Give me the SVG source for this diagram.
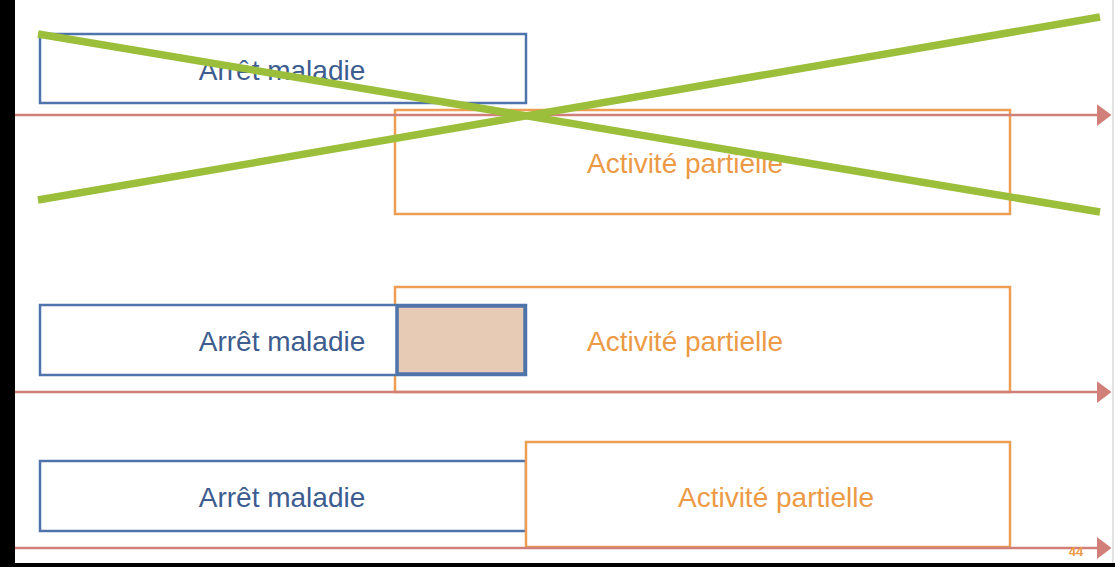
<svg xmlns="http://www.w3.org/2000/svg" width="1115" height="567" viewBox="0 0 1115 567">
<style>
.blue{fill:#ffffff;stroke:#4f74ab;stroke-width:2.5}
.orange{fill:#ffffff;stroke:#ee9e52;stroke-width:2.5}
.tb{font-family:"Liberation Sans",Arial,sans-serif;font-size:28px;fill:#3d5d8f;text-anchor:middle}
.to{font-family:"Liberation Sans",Arial,sans-serif;font-size:28px;fill:#ec9a45;text-anchor:middle}
.axis{stroke:#d08079;stroke-width:2.5;fill:none}
.cross{stroke:#9bbf3a;stroke-width:7.5;stroke-linecap:butt}
</style>
<defs>
<marker id="arr" viewBox="0 0 10 10" refX="1" refY="5" markerWidth="6" markerHeight="9" markerUnits="strokeWidth" orient="auto" preserveAspectRatio="none">
<path d="M0,0 L10,5 L0,10 z" fill="#d08079"/>
</marker>
</defs>
<rect x="0" y="0" width="1115" height="567" fill="#ffffff"/>
<rect x="0" y="0" width="15" height="567" fill="#000000"/>
<rect x="0" y="563" width="1115" height="4" fill="#000000"/>
<line x1="1113" y1="0" x2="1113" y2="563" stroke="#c8c8c8" stroke-width="1"/>

<g id="row1-orange"><rect class="orange" x="395" y="110" width="615" height="104"/><text class="to" x="685" y="173">Activité partielle</text></g>
<g id="row1-blue"><rect class="blue" x="40" y="34" width="486" height="69"/><text class="tb" x="282" y="80">Arrêt maladie</text></g>

<g id="row2-orange"><rect class="orange" x="395" y="287" width="615" height="105"/><text class="to" x="685" y="351">Activité partielle</text></g>
<g id="row2-blue"><rect class="blue" x="40" y="305" width="486" height="70"/><text class="tb" x="282" y="351">Arrêt maladie</text></g>
<g id="row2-overlap"><rect x="397" y="306" width="128" height="68" fill="#e8cbb4" stroke="#4f74ab" stroke-width="3.5"/></g>

<g id="row3-blue"><rect class="blue" x="40" y="461" width="486" height="70"/><text class="tb" x="282" y="507">Arrêt maladie</text></g>
<g id="row3-orange"><rect class="orange" x="526" y="442" width="484" height="105"/><text class="to" x="776" y="507">Activité partielle</text></g>

<g id="connectors">
<line class="axis" x1="15" y1="115" x2="1098" y2="115" marker-end="url(#arr)"/>
<line class="axis" x1="15" y1="392" x2="1098" y2="392" marker-end="url(#arr)"/>
<line class="axis" x1="15" y1="548" x2="1098" y2="548" marker-end="url(#arr)"/>
</g>

<text x="1076" y="556" font-family="Liberation Sans,Arial,sans-serif" font-size="13" font-weight="bold" fill="#ec9a45" text-anchor="middle">44</text>

<g id="cross">
<line class="cross" x1="38" y1="34" x2="1100" y2="212"/>
<line class="cross" x1="38" y1="200" x2="1100" y2="17"/>
</g>
</svg>
